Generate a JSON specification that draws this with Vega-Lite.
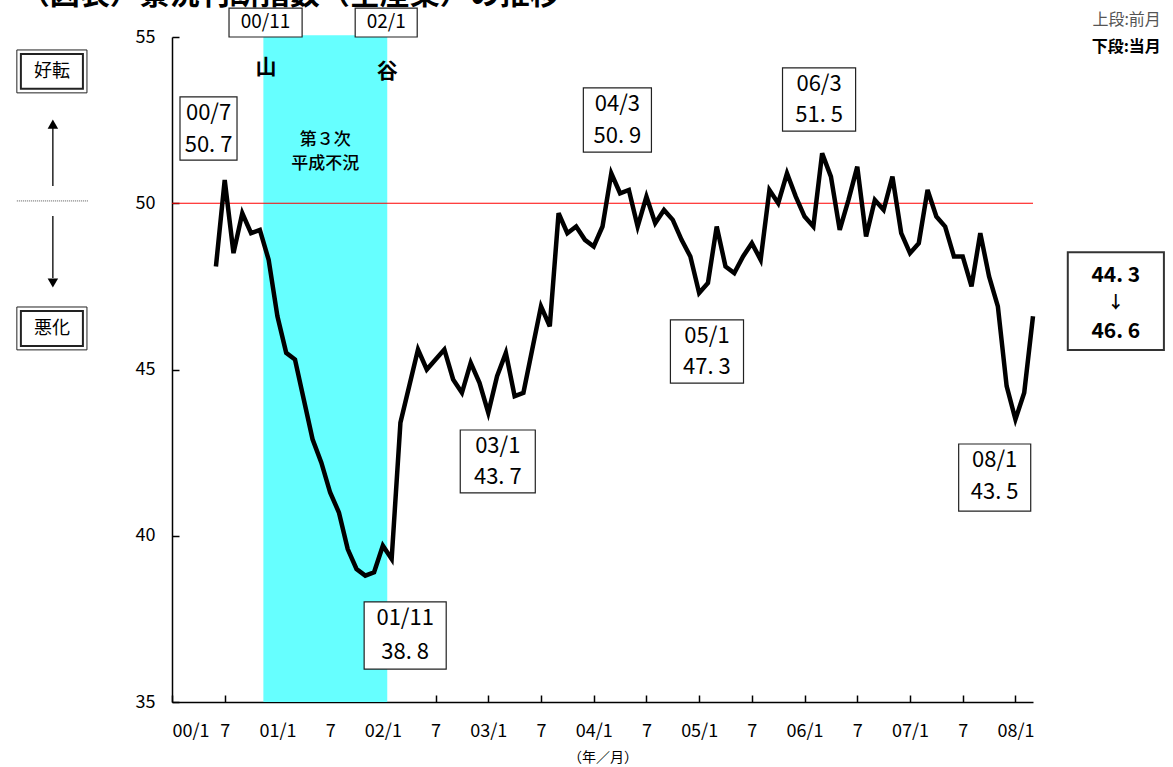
{
  "$schema": "https://vega.github.io/schema/vega-lite/v6.json",
  "width": 861,
  "height": 665,
  "autosize": {"type": "none"},
  "padding": {"left": 172, "top": 37, "right": 140, "bottom": 65},
  "background": "white",
  "config": {
    "view": {"stroke": null},
    "font": "Noto Sans CJK JP",
    "axis": {"grid": false, "domainColor": "black", "tickColor": "black", "labelColor": "black", "titleColor": "black"}
  },
  "datasets": {
    "series": [
      {"m": 5, "v": 48.1}, {"m": 6, "v": 50.7}, {"m": 7, "v": 48.5}, {"m": 8, "v": 49.7}, {"m": 9, "v": 49.1},
      {"m": 10, "v": 49.2}, {"m": 11, "v": 48.3}, {"m": 12, "v": 46.6}, {"m": 13, "v": 45.5}, {"m": 14, "v": 45.3},
      {"m": 15, "v": 44.1}, {"m": 16, "v": 42.9}, {"m": 17, "v": 42.2}, {"m": 18, "v": 41.3}, {"m": 19, "v": 40.7},
      {"m": 20, "v": 39.6}, {"m": 21, "v": 39.0}, {"m": 22, "v": 38.8}, {"m": 23, "v": 38.9}, {"m": 24, "v": 39.7},
      {"m": 25, "v": 39.3}, {"m": 26, "v": 43.4}, {"m": 27, "v": 44.5}, {"m": 28, "v": 45.6}, {"m": 29, "v": 45.0},
      {"m": 30, "v": 45.3}, {"m": 31, "v": 45.6}, {"m": 32, "v": 44.7}, {"m": 33, "v": 44.3}, {"m": 34, "v": 45.2},
      {"m": 35, "v": 44.6}, {"m": 36, "v": 43.7}, {"m": 37, "v": 44.8}, {"m": 38, "v": 45.5}, {"m": 39, "v": 44.2},
      {"m": 40, "v": 44.3}, {"m": 41, "v": 45.6}, {"m": 42, "v": 46.9}, {"m": 43, "v": 46.3}, {"m": 44, "v": 49.7},
      {"m": 45, "v": 49.1}, {"m": 46, "v": 49.3}, {"m": 47, "v": 48.9}, {"m": 48, "v": 48.7}, {"m": 49, "v": 49.3},
      {"m": 50, "v": 50.9}, {"m": 51, "v": 50.3}, {"m": 52, "v": 50.4}, {"m": 53, "v": 49.3}, {"m": 54, "v": 50.2},
      {"m": 55, "v": 49.4}, {"m": 56, "v": 49.8}, {"m": 57, "v": 49.5}, {"m": 58, "v": 48.9}, {"m": 59, "v": 48.4},
      {"m": 60, "v": 47.3}, {"m": 61, "v": 47.6}, {"m": 62, "v": 49.3}, {"m": 63, "v": 48.1}, {"m": 64, "v": 47.9},
      {"m": 65, "v": 48.4}, {"m": 66, "v": 48.8}, {"m": 67, "v": 48.3}, {"m": 68, "v": 50.4}, {"m": 69, "v": 50.0},
      {"m": 70, "v": 50.9}, {"m": 71, "v": 50.2}, {"m": 72, "v": 49.6}, {"m": 73, "v": 49.3}, {"m": 74, "v": 51.5},
      {"m": 75, "v": 50.8}, {"m": 76, "v": 49.2}, {"m": 77, "v": 50.1}, {"m": 78, "v": 51.1}, {"m": 79, "v": 49.0},
      {"m": 80, "v": 50.1}, {"m": 81, "v": 49.8}, {"m": 82, "v": 50.8}, {"m": 83, "v": 49.1}, {"m": 84, "v": 48.5},
      {"m": 85, "v": 48.8}, {"m": 86, "v": 50.4}, {"m": 87, "v": 49.6}, {"m": 88, "v": 49.3}, {"m": 89, "v": 48.4},
      {"m": 90, "v": 48.4}, {"m": 91, "v": 47.5}, {"m": 92, "v": 49.1}, {"m": 93, "v": 47.8}, {"m": 94, "v": 46.9},
      {"m": 95, "v": 44.5}, {"m": 96, "v": 43.5}, {"m": 97, "v": 44.3}, {"m": 98, "v": 46.6}
    ],
    "shade": [{"m": 10.4, "m2": 24.5, "v": 35, "v2": 55.05}],
    "ref": [{"m": 0, "m2": 98, "v": 50}],
    "boxes": [
      {"m": 0.91, "m2": 7.4, "v": 53.2, "v2": 51.3},
      {"m": 21.87, "m2": 31.21, "v": 38.01, "v2": 35.99},
      {"m": 32.81, "m2": 41.35, "v": 43.18, "v2": 41.29},
      {"m": 46.82, "m2": 54.57, "v": 53.47, "v2": 51.54},
      {"m": 56.73, "m2": 65.05, "v": 46.49, "v2": 44.59},
      {"m": 69.49, "m2": 77.81, "v": 54.07, "v2": 52.17},
      {"m": 89.54, "m2": 97.74, "v": 42.76, "v2": 40.74},
      {"m": 6.49, "m2": 14.81, "v": 55.87, "v2": 55.0},
      {"m": 20.85, "m2": 27.91, "v": 55.87, "v2": 55.0}
    ],
    "bigbox": [{"m": 101.96, "m2": 112.9, "v": 48.53, "v2": 45.59}],
    "dblOuter": [
      {"m": -17.66, "m2": -9.68, "v": 54.61, "v2": 53.32},
      {"m": -17.66, "m2": -9.68, "v": 46.88, "v2": 45.59}
    ],
    "dblInner": [
      {"m": -17.2, "m2": -10.14, "v": 54.49, "v2": 53.44},
      {"m": -17.2, "m2": -10.14, "v": 46.76, "v2": 45.71}
    ],
    "titleText": [{"m": -17.32, "v": 56.0, "t": "（図表）景況判断指数（全産業）の推移"}],
    "boxText": [
      {"m": 4.16, "v": 52.71, "t": "00/7"}, {"m": 4.16, "v": 51.75, "t": "50. 7"},
      {"m": 26.54, "v": 37.53, "t": "01/11"}, {"m": 26.54, "v": 36.5, "t": "38. 8"},
      {"m": 37.08, "v": 42.7, "t": "03/1"}, {"m": 37.08, "v": 41.77, "t": "43. 7"},
      {"m": 50.69, "v": 52.98, "t": "04/3"}, {"m": 50.69, "v": 52.02, "t": "50. 9"},
      {"m": 60.89, "v": 46.01, "t": "05/1"}, {"m": 60.89, "v": 45.08, "t": "47. 3"},
      {"m": 73.65, "v": 53.59, "t": "06/3"}, {"m": 73.65, "v": 52.65, "t": "51. 5"},
      {"m": 93.64, "v": 42.28, "t": "08/1"}, {"m": 93.64, "v": 41.32, "t": "43. 5"}
    ],
    "topText": [
      {"m": 10.65, "v": 55.45, "t": "00/11"},
      {"m": 24.38, "v": 55.45, "t": "02/1"}
    ],
    "peakText": [
      {"m": 10.71, "v": 54.07, "t": "山"},
      {"m": 24.49, "v": 53.95, "t": "谷"}
    ],
    "recessText": [
      {"m": 17.43, "v": 51.9, "t": "第３次"},
      {"m": 17.43, "v": 51.18, "t": "平成不況"}
    ],
    "rightText": [
      {"m": 107.43, "v": 47.8, "t": "44. 3"},
      {"m": 107.43, "v": 46.14, "t": "46. 6"}
    ],
    "rightArrow": [{"m": 107.43, "v": 47.0, "t": "↓"}],
    "noteGray": [{"m": 112.55, "v": 55.51, "t": "上段:前月"}],
    "noteBold": [{"m": 112.55, "v": 54.7, "t": "下段:当月"}],
    "sideText": [
      {"m": -13.67, "v": 53.95, "t": "好転"},
      {"m": -13.67, "v": 46.22, "t": "悪化"}
    ],
    "shafts": [
      {"m": -13.56, "v": 50.52, "v2": 52.3},
      {"m": -13.56, "v": 49.62, "v2": 47.75}
    ],
    "headUp": [{"m": -13.56, "v": 52.38}],
    "headDown": [{"m": -13.56, "v": 47.6}],
    "dotted": [{"m": -17.66, "m2": -9.57, "v": 50.07}]
  },
  "encoding": {
    "x": {"field": "m", "type": "quantitative", "scale": {"domain": [0, 98], "nice": false, "zero": false},
      "axis": {
        "values": [0, 6, 12, 18, 24, 30, 36, 42, 48, 54, 60, 66, 72, 78, 84, 90, 96],
        "labelExpr": "datum.value % 12 == 0 ? '0' + floor(datum.value / 12) + '/1' : '7'",
        "tickSize": -7, "tickWidth": 1.5, "domainWidth": 1.5,
        "labelPadding": 27, "labelFontSize": 18, "labelFont": "Noto Sans CJK JP",
        "title": "（年／月）", "titleFontSize": 14, "titleFontWeight": "normal", "titlePadding": 10, "titleFont": "Noto Sans CJK JP"
      }},
    "y": {"field": "v", "type": "quantitative", "scale": {"domain": [35, 55], "nice": false, "zero": false},
      "axis": {
        "values": [35, 40, 45, 50, 55],
        "tickSize": -7, "tickWidth": 1.5, "domainWidth": 1.5,
        "labelPadding": 24, "labelFontSize": 18, "labelFont": "Noto Sans CJK JP",
        "title": null
      }}
  },
  "layer": [
    {
      "data": {"name": "titleText"},
      "mark": {"type": "text", "fontSize": 30, "fontWeight": "bold", "font": "Noto Sans CJK JP", "color": "black", "align": "left", "baseline": "alphabetic"},
      "encoding": {"text": {"field": "t"}}
    },
    {
      "data": {"name": "shade"},
      "mark": {"type": "rect", "fill": "#66ffff", "clip": false},
      "encoding": {"x2": {"field": "m2"}, "y2": {"field": "v2"}}
    },
    {
      "data": {"name": "ref"},
      "mark": {"type": "rule", "stroke": "#ff0000", "strokeWidth": 1.2},
      "encoding": {"x2": {"field": "m2"}}
    },
    {
      "data": {"name": "series"},
      "mark": {"type": "line", "stroke": "black", "strokeWidth": 4.5, "strokeJoin": "miter"},
      "encoding": {}
    },
    {
      "data": {"name": "boxes"},
      "mark": {"type": "rect", "fill": "white", "stroke": "#222222", "strokeWidth": 1.2, "clip": false},
      "encoding": {"x2": {"field": "m2"}, "y2": {"field": "v2"}}
    },
    {
      "data": {"name": "bigbox"},
      "mark": {"type": "rect", "fill": "white", "stroke": "#333333", "strokeWidth": 2, "clip": false},
      "encoding": {"x2": {"field": "m2"}, "y2": {"field": "v2"}}
    },
    {
      "data": {"name": "dblOuter"},
      "mark": {"type": "rect", "fill": "white", "stroke": "#222222", "strokeWidth": 1, "clip": false},
      "encoding": {"x2": {"field": "m2"}, "y2": {"field": "v2"}}
    },
    {
      "data": {"name": "dblInner"},
      "mark": {"type": "rect", "fill": "white", "stroke": "#222222", "strokeWidth": 2, "clip": false},
      "encoding": {"x2": {"field": "m2"}, "y2": {"field": "v2"}}
    },
    {
      "data": {"name": "boxText"},
      "mark": {"type": "text", "fontSize": 22, "font": "Noto Sans CJK JP", "color": "black", "align": "center", "baseline": "middle"},
      "encoding": {"text": {"field": "t"}}
    },
    {
      "data": {"name": "topText"},
      "mark": {"type": "text", "fontSize": 19, "font": "Noto Sans CJK JP", "color": "black", "align": "center", "baseline": "middle"},
      "encoding": {"text": {"field": "t"}}
    },
    {
      "data": {"name": "peakText"},
      "mark": {"type": "text", "fontSize": 21, "fontWeight": "bold", "font": "Noto Sans CJK JP", "color": "black", "align": "center", "baseline": "middle"},
      "encoding": {"text": {"field": "t"}}
    },
    {
      "data": {"name": "recessText"},
      "mark": {"type": "text", "fontSize": 17, "fontWeight": 500, "font": "Noto Sans CJK JP", "color": "black", "align": "center", "baseline": "middle"},
      "encoding": {"text": {"field": "t"}}
    },
    {
      "data": {"name": "rightText"},
      "mark": {"type": "text", "fontSize": 21, "fontWeight": "bold", "font": "Noto Sans CJK JP", "color": "black", "align": "center", "baseline": "middle"},
      "encoding": {"text": {"field": "t"}}
    },
    {
      "data": {"name": "rightArrow"},
      "mark": {"type": "text", "fontSize": 17, "fontWeight": "bold", "font": "Noto Sans CJK JP", "color": "black", "align": "center", "baseline": "middle"},
      "encoding": {"text": {"field": "t"}}
    },
    {
      "data": {"name": "noteGray"},
      "mark": {"type": "text", "fontSize": 16, "font": "Noto Sans CJK JP", "color": "#555555", "align": "right", "baseline": "middle"},
      "encoding": {"text": {"field": "t"}}
    },
    {
      "data": {"name": "noteBold"},
      "mark": {"type": "text", "fontSize": 16, "fontWeight": "bold", "font": "Noto Sans CJK JP", "color": "black", "align": "right", "baseline": "middle"},
      "encoding": {"text": {"field": "t"}}
    },
    {
      "data": {"name": "sideText"},
      "mark": {"type": "text", "fontSize": 18, "font": "Noto Sans CJK JP", "color": "black", "align": "center", "baseline": "middle"},
      "encoding": {"text": {"field": "t"}}
    },
    {
      "data": {"name": "shafts"},
      "mark": {"type": "rule", "stroke": "black", "strokeWidth": 1.3},
      "encoding": {"y2": {"field": "v2"}}
    },
    {
      "data": {"name": "headUp"},
      "mark": {"type": "point", "shape": "triangle-up", "filled": true, "color": "black", "size": 110, "opacity": 1},
      "encoding": {}
    },
    {
      "data": {"name": "headDown"},
      "mark": {"type": "point", "shape": "triangle-down", "filled": true, "color": "black", "size": 110, "opacity": 1},
      "encoding": {}
    },
    {
      "data": {"name": "dotted"},
      "mark": {"type": "rule", "stroke": "#555555", "strokeWidth": 1, "strokeDash": [1, 1]},
      "encoding": {"x2": {"field": "m2"}}
    }
  ]
}
